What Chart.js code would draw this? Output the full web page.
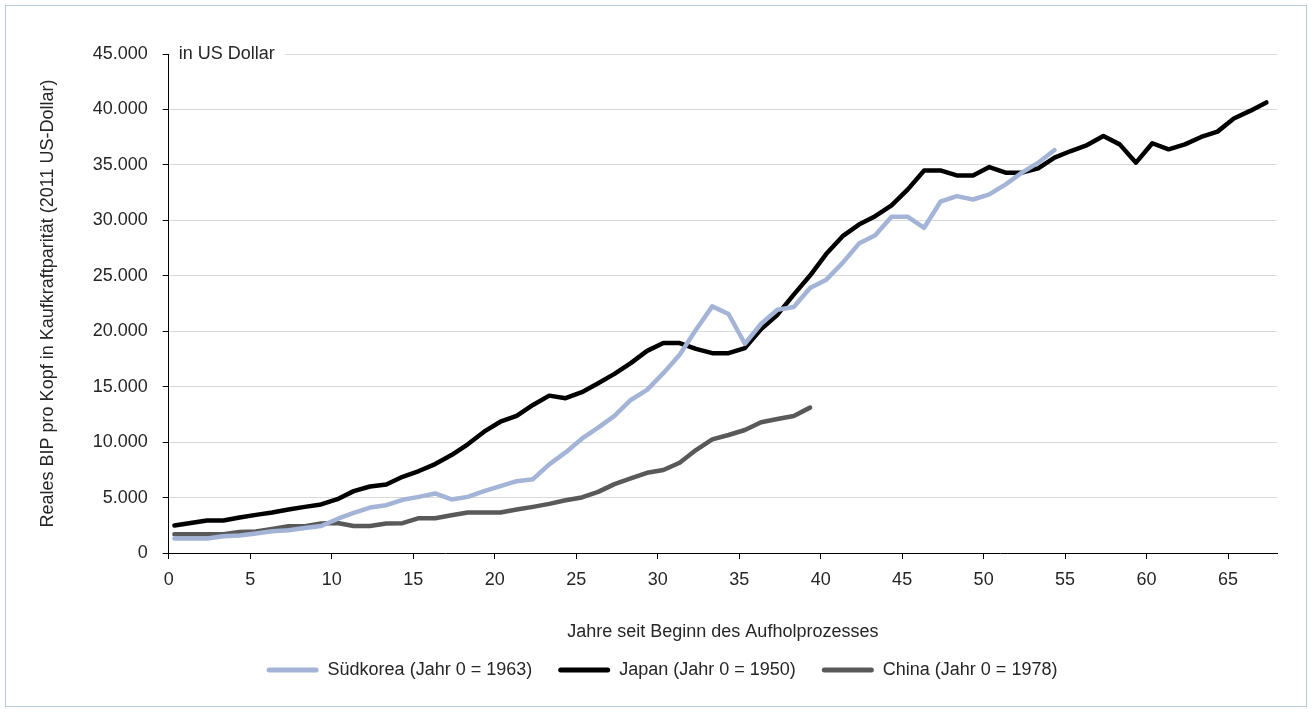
<!DOCTYPE html>
<html>
<head>
<meta charset="utf-8">
<script src="https://cdn.jsdelivr.net/npm/chart.js@4.4.1/dist/chart.umd.min.js"></script>
<style>
html,body{margin:0;padding:0;background:#fff;}
#wrap{position:relative;width:1313px;height:713px;}
canvas{display:block;}
</style>
</head>
<body>
<div id="wrap"><canvas id="c" width="1313" height="713"></canvas></div>
<script>
// ---- data ----
const koreaValues = [1300,1300,1300,1510,1570,1750,1960,2050,2260,2440,
  3070,3620,4100,4310,4800,5060,5370,4830,5060,5580,
  6030,6480,6660,7990,9070,10310,11300,12360,13800,14710,
  16220,17870,20130,22240,21550,18870,20670,21940,22180,23900,
  24650,26160,27900,28660,30320,30320,29330,31680,32180,31880,
  32340,33240,34300,35200,36340];
const japanValues = [2480,2710,2930,2930,3200,3440,3650,3920,4160,4380,
  4850,5580,6000,6180,6870,7390,8020,8830,9800,10940,
  11840,12360,13350,14190,13960,14500,15310,16150,17120,18230,
  18930,18930,18410,18020,18020,18480,20200,21490,23300,25020,
  26980,28570,29620,30370,31340,32790,34500,34500,34050,34050,
  34800,34300,34300,34690,35650,36250,36790,37600,36850,35200,
  36950,36400,36850,37520,38000,39180,39870,40630];
const chinaValues = [1690,1690,1690,1690,1900,1950,2170,2410,2410,2660,
  2710,2440,2440,2660,2690,3140,3140,3410,3650,3650,
  3650,3920,4160,4430,4760,5010,5510,6210,6720,7230,
  7480,8140,9280,10250,10640,11090,11790,12090,12360,13110];
const seriesLabels = ['Südkorea (Jahr 0 = 1963)', 'Japan (Jahr 0 = 1950)', 'China (Jahr 0 = 1978)'];
const xTickValues = [0,5,10,15,20,25,30,35,40,45,50,55,60,65];
const yTickValues = [0,5000,10000,15000,20000,25000,30000,35000,40000,45000];
const xAxisTitle = 'Jahre seit Beginn des Aufholprozesses';
const yAxisTitle = 'Reales BIP pro Kopf in Kaufkraftparität (2011 US-Dollar)';
const unitNote = 'in US Dollar';

// ---- styling ----
const FONT = '"Liberation Sans", Arial, sans-serif';
const FS = 18;
const TEXT = '#262626';
const COLORS = ['#a3b4d6', '#000000', '#595959'];
const POINT_OFFSET = 0.35;   // points sit inside each year slot (as in the original)
const LEGEND_DX = 23.5;

const fmt = v => String(v).replace(/\B(?=(\d{3})+(?!\d))/g, '.');
const toPoints = arr => arr.map((v, i) => ({x: i + POINT_OFFSET, y: v}));

const ds = (label, values, color) => ({
  label, data: toPoints(values), borderColor: color, backgroundColor: color,
  borderWidth: 4.5, pointRadius: 0, pointHoverRadius: 0, tension: 0,
  borderCapStyle: 'round', borderJoinStyle: 'round', fill: false
});

const extras = {
  id: 'extras',
  afterLayout(chart) {
    const l = chart.legend;
    if (l) { l.left += LEGEND_DX; l.right += LEGEND_DX; }
  },
  afterDraw(chart) {
    const ctx = chart.ctx;
    const y = chart.scales.y.getPixelForValue(yTickValues[yTickValues.length - 1]);
    const left = chart.chartArea.left;
    ctx.save();
    ctx.fillStyle = '#fff';
    ctx.fillRect(left + 1, y - 3, 115, 6);
    ctx.fillStyle = TEXT;
    ctx.font = FS + 'px ' + FONT;
    ctx.textBaseline = 'middle';
    ctx.textAlign = 'left';
    ctx.fillText(unitNote, left + 10, y);
    ctx.strokeStyle = '#b9c8e3';
    ctx.lineWidth = 1;
    ctx.strokeRect(5.5, 5.5, 1301, 701);
    ctx.restore();
  }
};

new Chart(document.getElementById('c'), {
  type: 'line',
  data: {
    datasets: [
      ds(seriesLabels[0], koreaValues, COLORS[0]),
      ds(seriesLabels[1], japanValues, COLORS[1]),
      ds(seriesLabels[2], chinaValues, COLORS[2])
    ]
  },
  options: {
    responsive: false,
    animation: false,
    devicePixelRatio: 1,
    layout: { padding: { left: 0, right: 36, top: 54, bottom: 24 } },
    plugins: {
      tooltip: { enabled: false },
      legend: {
        position: 'bottom',
        labels: {
          boxWidth: 52, boxHeight: 5, padding: 26, color: TEXT,
          font: { family: FONT, size: FS },
          useBorderRadius: true, borderRadius: 2.5,
          generateLabels: chart => chart.data.datasets.map((d, i) => ({
            text: d.label, fillStyle: d.borderColor, strokeStyle: d.borderColor,
            lineWidth: 0, borderRadius: 2.5, datasetIndex: i, hidden: false, fontColor: TEXT
          }))
        }
      }
    },
    scales: {
      x: {
        type: 'linear', min: 0, max: 68,
        afterBuildTicks: s => { s.ticks = xTickValues.map(v => ({value: v})); },
        afterFit: s => { s.height = 82; },
        ticks: { color: TEXT, font: { family: FONT, size: FS }, padding: 10.2, maxRotation: 0, autoSkip: false, callback: v => String(v) },
        grid: { drawOnChartArea: false, drawTicks: true, tickLength: 6, tickColor: '#000', tickWidth: 1 },
        border: { display: true, color: '#000', width: 1 },
        title: { display: true, text: xAxisTitle, color: TEXT, font: { family: FONT, size: FS }, padding: { top: 0, bottom: -7.8 } }
      },
      y: {
        min: 0, max: 45000,
        afterBuildTicks: s => { s.ticks = yTickValues.map(v => ({value: v})); },
        afterFit: s => { s.width = 168.7; },
        ticks: { color: TEXT, font: { family: FONT, size: FS }, padding: 15, callback: v => fmt(v) },
        grid: { color: c => (c.tick && c.tick.value === 0) ? 'rgba(0,0,0,0)' : '#d9d9d9', lineWidth: 1, drawTicks: true, tickLength: 6, tickColor: '#000', tickWidth: 1 },
        border: { display: true, color: '#000', width: 1 },
        title: { display: true, text: yAxisTitle, color: TEXT, font: { family: FONT, size: FS }, padding: { top: 37.2, bottom: 0 } }
      }
    }
  },
  plugins: [extras]
});
</script>
</body>
</html>
